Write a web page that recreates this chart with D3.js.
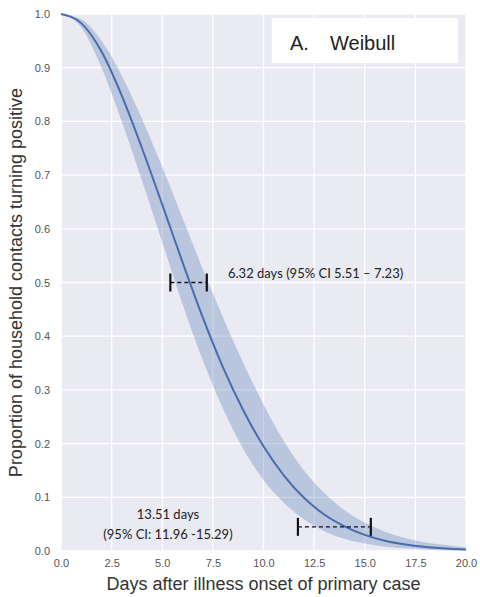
<!DOCTYPE html>
<html>
<head>
<meta charset="utf-8">
<script src="https://cdn.jsdelivr.net/npm/d3@7"></script>
<style>
  body { margin: 0; background: #fff; }
  svg { display: block; }
  .tick text { fill: #555; font-family: "Liberation Sans", Arial, sans-serif; font-size: 11px; }
  .axisLabel { font-family: "Liberation Sans", Arial, sans-serif; font-size: 18px; fill: #333; }
  .note { font-family: Lato, "Open Sans", sans-serif; font-size: 13px; fill: #222; }
</style>
</head>
<body>
<svg id="chart" width="480" height="597"></svg>
<script>
// values
const days = [0, 1, 2, 3, 4, 5, 6, 7, 8, 9, 10, 11, 12, 13, 14, 15, 16, 17, 18, 19, 20];
const survival = [1, 0.983, 0.93, 0.848, 0.75, 0.645, 0.538, 0.435, 0.342, 0.262, 0.195,
  0.141, 0.099, 0.068, 0.046, 0.03, 0.019, 0.012, 0.0075, 0.0045, 0.0027];
const lowerCI = [1, 0.975, 0.9, 0.8, 0.69, 0.575, 0.46, 0.355, 0.265, 0.19, 0.132,
  0.09, 0.059, 0.037, 0.023, 0.014, 0.008, 0.005, 0.003, 0.0015, 0.001];
const upperCI = [1, 0.99, 0.95, 0.885, 0.805, 0.715, 0.62, 0.525, 0.435, 0.35, 0.273,
  0.205, 0.15, 0.108, 0.076, 0.053, 0.036, 0.024, 0.016, 0.011, 0.007];

const xTicks = [0, 2.5, 5, 7.5, 10, 12.5, 15, 17.5, 20];
const yTicks = [0, 0.1, 0.2, 0.3, 0.4, 0.5, 0.6, 0.7, 0.8, 0.9, 1.0];

// error bars: [from, to, level]
const errorBars = [[5.4, 7.2, 0.5], [11.7, 15.3, 0.045]];
const medianNote = "6.32 days (95% CI 5.51 \u2013 7.23)";
const tailNote = ["13.51 days", "(95% CI: 11.96 -15.29)"];
const panelTitle = ["A.", "Weibull"];

const svg = d3.select("#chart");
const x = d3.scaleLinear().domain([0, 20]).range([61, 466]);
const y = d3.scaleLinear().domain([0, 1]).range([551, 14]);

svg.append("rect")
  .attr("x", x(0)).attr("y", y(1))
  .attr("width", x(20) - x(0)).attr("height", y(0) - y(1))
  .attr("fill", "#eaeaf2");

// grid
svg.append("g").selectAll("line")
  .data(xTicks).enter().append("line")
  .attr("x1", d => x(d)).attr("x2", d => x(d))
  .attr("y1", y(0)).attr("y2", y(1))
  .attr("stroke", "#fff").attr("stroke-width", 1.3);
svg.append("g").selectAll("line")
  .data(yTicks).enter().append("line")
  .attr("x1", x(0)).attr("x2", x(20))
  .attr("y1", d => y(d)).attr("y2", d => y(d))
  .attr("stroke", "#fff").attr("stroke-width", 1.3);

// axes (ticks only as labels)
const xAxis = svg.append("g")
  .attr("transform", `translate(0,${y(0)})`)
  .call(d3.axisBottom(x).tickValues(xTicks).tickFormat(d3.format(".1f")).tickSize(0).tickPadding(8));
const yAxis = svg.append("g")
  .attr("transform", `translate(${x(0)},0)`)
  .call(d3.axisLeft(y).tickValues(yTicks).tickFormat(d3.format(".1f")).tickSize(0).tickPadding(11));
xAxis.select(".domain").remove();
yAxis.select(".domain").remove();

// band + curve
const band = d3.area()
  .x((d, i) => x(days[i]))
  .y0((d, i) => y(lowerCI[i]))
  .y1((d, i) => y(upperCI[i]))
  .curve(d3.curveMonotoneX);
svg.append("path")
  .datum(days)
  .attr("d", band)
  .attr("fill", "#4c72b0")
  .attr("fill-opacity", 0.3);

const line = d3.line()
  .x((d, i) => x(days[i]))
  .y((d, i) => y(survival[i]))
  .curve(d3.curveMonotoneX);
svg.append("path")
  .datum(days)
  .attr("d", line)
  .attr("fill", "none")
  .attr("stroke", "#4a6cab")
  .attr("stroke-width", 2);

// error bars
const bars = svg.append("g").selectAll("g").data(errorBars).enter().append("g");
bars.append("line")
  .attr("x1", d => x(d[0])).attr("x2", d => x(d[1]))
  .attr("y1", d => y(d[2])).attr("y2", d => y(d[2]))
  .attr("stroke", "#111").attr("stroke-width", 1.3)
  .attr("stroke-dasharray", "4,3");
bars.selectAll("line.cap")
  .data(d => [[d[0], d[2]], [d[1], d[2]]])
  .enter().append("line")
  .attr("class", "cap")
  .attr("x1", d => x(d[0])).attr("x2", d => x(d[0]))
  .attr("y1", d => y(d[1]) - 9).attr("y2", d => y(d[1]) + 9)
  .attr("stroke", "#111").attr("stroke-width", 2.2);

// notes
svg.append("text").attr("class", "note")
  .attr("x", 228).attr("y", y(0.5) - 5)
  .text(medianNote);
svg.append("g").selectAll("text")
  .data(tailNote).enter().append("text")
  .attr("class", "note")
  .attr("text-anchor", "middle")
  .attr("x", 168)
  .attr("y", (d, i) => 519 + i * 20)
  .text(d => d);

// panel title
svg.append("rect")
  .attr("x", 272).attr("y", 18).attr("width", 186).attr("height", 45)
  .attr("fill", "#fff");
svg.append("text")
  .attr("x", 290).attr("y", 50)
  .attr("font-family", "Liberation Sans, Arial, sans-serif")
  .attr("font-size", 20).attr("fill", "#222")
  .text(panelTitle[0]);
svg.append("text")
  .attr("x", 330).attr("y", 50)
  .attr("font-family", "Liberation Sans, Arial, sans-serif")
  .attr("font-size", 20).attr("fill", "#222")
  .text(panelTitle[1]);

// axis labels
svg.append("text").attr("class", "axisLabel")
  .attr("text-anchor", "middle")
  .attr("x", (x(0) + x(20)) / 2).attr("y", 590)
  .text("Days after illness onset of primary case");
svg.append("text").attr("class", "axisLabel")
  .attr("text-anchor", "middle")
  .attr("transform", `translate(22,${(y(0) + y(1)) / 2}) rotate(-90)`)
  .text("Proportion of household contacts turning positive");
</script>
</body>
</html>
